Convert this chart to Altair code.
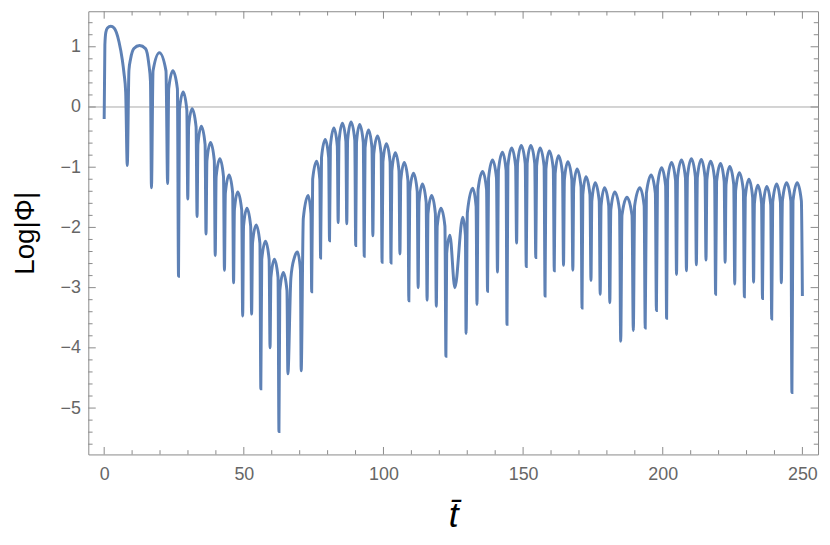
import altair as alt
import pandas as pd

# ---- curve values -----------------------------------------------------
# bottoms of the dips (first entry = start of the curve, last = its end)
dip_t = [0.0, 8.27, 16.93, 22.72, 26.62, 29.93, 33.26, 36.46, 39.76, 43.06,
         46.33, 49.59, 52.79, 56.09, 59.39, 62.58, 65.78, 70.54, 74.30, 77.49,
         80.69, 83.78, 86.86, 90.06, 93.11, 96.20, 99.50, 102.70, 105.89, 109.09,
         112.42, 115.62, 118.92, 122.36, 125.56, 129.57, 133.48, 137.27, 140.82, 144.23,
         147.67, 151.12, 154.53, 157.86, 161.16, 164.47, 167.80, 171.10, 174.30, 177.60,
         181.04, 184.95, 189.46, 193.72, 197.73, 201.38, 204.93, 208.48, 212.03, 215.48,
         218.92, 222.33, 225.77, 229.22, 232.52, 235.71, 239.01, 242.46, 246.25, 250.0]
dip_y = [-0.20, -0.97, -1.34, -1.27, -2.81, -1.53, -1.82, -2.11, -2.47, -2.71,
         -2.92, -3.47, -3.44, -4.68, -4.00, -5.39, -4.43, -4.38, -3.07, -2.51,
         -2.22, -1.92, -1.94, -2.30, -2.48, -2.14, -2.58, -2.59, -2.44, -3.22,
         -3.00, -3.21, -3.31, -4.14, -3.00, -3.76, -3.28, -3.06, -2.74, -3.61,
         -2.26, -2.65, -2.50, -3.14, -2.72, -2.63, -2.71, -3.34, -2.88, -3.11,
         -3.25, -3.89, -3.71, -3.67, -3.38, -3.51, -2.78, -2.72, -2.62, -2.54,
         -3.11, -2.58, -2.94, -3.15, -2.91, -3.18, -3.52, -2.92, -4.74, -3.14]

# tops of the arches
peak_t = [2.38, 12.67, 19.77, 24.60, 28.29, 31.49, 34.79, 38.09, 41.43, 44.73,
          47.82, 51.12, 54.42, 57.76, 60.95, 64.15, 69.22, 73.02, 76.07, 79.16,
          82.25, 85.30, 88.39, 91.48, 94.67, 97.87, 101.06, 104.26, 107.45, 110.76,
          113.95, 117.25, 120.59, 123.78, 128.40, 131.95, 135.50, 139.05, 142.60, 145.90,
          149.34, 152.75, 156.09, 159.39, 162.69, 166.03, 169.33, 172.52, 175.83, 179.16,
          182.82, 187.18, 191.80, 195.85, 199.61, 203.16, 206.71, 210.26, 213.81, 217.15,
          220.70, 224.00, 227.44, 230.85, 234.04, 237.24, 240.79, 244.34, 248.14]
peak_y = [1.34, 1.02, 0.90, 0.60, 0.25, -0.03, -0.32, -0.59, -0.86, -1.13,
          -1.41, -1.68, -1.96, -2.23, -2.53, -2.75, -2.41, -1.47, -0.90, -0.54,
          -0.35, -0.27, -0.25, -0.29, -0.38, -0.48, -0.61, -0.76, -0.92, -1.10,
          -1.28, -1.47, -1.68, -2.13, -1.83, -1.35, -1.07, -0.88, -0.75, -0.68,
          -0.64, -0.64, -0.68, -0.73, -0.81, -0.91, -1.03, -1.16, -1.26, -1.34,
          -1.41, -1.50, -1.34, -1.13, -1.01, -0.92, -0.88, -0.86, -0.87, -0.90,
          -0.94, -0.99, -1.09, -1.20, -1.30, -1.32, -1.28, -1.26, -1.26]

# points on the flanks of the arches, where they turn down into the dips
flank_t = [0.25, 0.60, 1.17, 3.55, 5.32, 6.50, 7.10, 7.70,
           8.87, 9.47, 10.65, 14.80, 15.97, 16.58,
           17.50, 22.13, 23.10, 26.22, 26.95, 29.60, 30.24, 32.91, 33.57, 36.13,
           36.79, 39.43, 40.09, 42.73, 43.39, 46.01, 46.63, 49.24, 49.90, 52.46,
           53.12, 55.76, 56.42, 59.06, 59.70, 62.25, 62.89, 65.45,
           66.85, 68.05, 70.28, 71.30, 74.04,
           74.65, 77.21, 77.82, 80.38, 81.00, 83.47, 84.08, 86.55, 87.17, 89.73,
           90.34, 92.78, 93.42, 95.89, 96.53, 99.17, 99.81, 102.37, 103.01, 105.56,
           106.20, 108.76, 109.42, 112.09, 112.73, 115.29, 115.95, 118.59, 119.25, 122.01,
           122.64, 129.34, 130.05, 133.17,
           133.88, 136.92, 137.63, 140.47, 141.18, 143.90, 144.56, 147.32, 148.00, 150.76,
           151.45, 154.17, 154.84, 157.51, 158.17, 160.81, 161.47, 164.11, 164.78, 167.45,
           168.11, 170.75, 171.38, 173.94, 174.61, 177.25, 177.91, 180.66, 181.40, 184.52,
           185.40, 189.00, 189.93, 193.34, 194.15, 197.35, 198.11, 201.03, 201.74, 204.58,
           205.29, 208.13, 208.84, 211.68, 212.39, 215.15, 215.81, 218.57, 219.28, 222.00,
           222.66, 225.42, 226.10, 228.86, 229.55, 232.19, 232.82, 235.38, 236.02, 238.66,
           239.37, 242.13, 242.84, 245.87, 246.63, 249.63]
flank_y = [1.03, 1.24, 1.31, 1.31, 1.08, 0.78, 0.56, 0.25,
           0.61, 0.80, 0.97, 0.97, 0.72, 0.42,
           0.60, 0.60, 0.30, 0.30, -0.05, -0.05, -0.33, -0.33, -0.62, -0.62,
           -0.89, -0.89, -1.16, -1.16, -1.43, -1.43, -1.71, -1.71, -1.98, -1.98,
           -2.26, -2.26, -2.53, -2.53, -2.83, -2.83, -3.05, -3.05,
           -2.84, -2.51, -2.71, -1.85, -1.77,
           -1.20, -1.20, -0.84, -0.84, -0.65, -0.65, -0.57, -0.57, -0.55, -0.55,
           -0.59, -0.59, -0.68, -0.68, -0.78, -0.78, -0.91, -0.91, -1.06, -1.06,
           -1.22, -1.22, -1.40, -1.40, -1.58, -1.58, -1.77, -1.77, -1.98, -1.98,
           -2.43, -2.13, -1.75, -1.65,
           -1.37, -1.37, -1.18, -1.18, -1.05, -1.05, -0.98, -0.98, -0.94, -0.94,
           -0.94, -0.94, -0.98, -0.98, -1.03, -1.03, -1.11, -1.11, -1.21, -1.21,
           -1.33, -1.33, -1.46, -1.46, -1.56, -1.56, -1.64, -1.64, -1.71, -1.71,
           -1.80, -1.80, -1.64, -1.64, -1.43, -1.43, -1.31, -1.31, -1.22, -1.22,
           -1.18, -1.18, -1.16, -1.16, -1.17, -1.17, -1.20, -1.20, -1.24, -1.24,
           -1.29, -1.29, -1.39, -1.39, -1.50, -1.50, -1.60, -1.60, -1.62, -1.62,
           -1.58, -1.58, -1.56, -1.56, -1.56, -1.56]

# ---- axis tick values ---------------------------------------------------
x_major = [0, 50, 100, 150, 200, 250]
x_minor = [10, 20, 30, 40, 60, 70, 80, 90, 110, 120, 130, 140, 160, 170, 180, 190,
           210, 220, 230, 240]
y_major = [-5, -4, -3, -2, -1, 0, 1]
y_minor = [-5.6, -5.4, -5.2, -4.8, -4.6, -4.4, -4.2, -3.8, -3.6, -3.4, -3.2,
           -2.8, -2.6, -2.4, -2.2, -1.8, -1.6, -1.4, -1.2, -0.8, -0.6, -0.4, -0.2,
           0.2, 0.4, 0.6, 0.8, 1.2, 1.4]

# ---- chart ----------------------------------------------------------------
W, H = 736, 447
FRAME = "#8a8a8a"
LABEL = "#666666"
FONT = "Liberation Sans"
MAJ, MIN = 7.5, 4.3

xs = alt.Scale(domain=[-5.68, 255.6], nice=False, zero=False)
ys = alt.Scale(domain=[-5.77, 1.59], nice=False, zero=False)

x_axis = alt.Axis(
    values=x_major, format="d", title="t\u0304", tickSize=0, domain=False,
    grid=False, labelFont=FONT, labelFontSize=18, labelColor=LABEL,
    labelPadding=11, labelFlush=False, labelOverlap=False,
    titleFont=FONT, titleFontSize=36, titleFontStyle="italic",
    titleFontWeight="normal", titleColor="black", titleY=73,
    titleBaseline="alphabetic")
y_axis = alt.Axis(
    values=y_major, format="d", title="Log|Φ|", tickSize=0, domain=False,
    grid=False, labelFont=FONT, labelFontSize=18, labelColor=LABEL,
    labelPadding=8, labelFlush=False, labelOverlap=False,
    titleFont=FONT, titleFontSize=28, titleFontWeight="normal",
    titleColor="black", titleX=-55, titleBaseline="alphabetic")

curve = pd.DataFrame({"t": dip_t + peak_t + flank_t,
                      "v": dip_y + peak_y + flank_y}).sort_values("t")

line = alt.Chart(curve).mark_line(
    color="#5e81b5", strokeWidth=3, interpolate="monotone", clip=True
).encode(
    x=alt.X("t:Q", scale=xs, axis=x_axis, title="t\u0304"),
    y=alt.Y("v:Q", scale=ys, axis=y_axis, title="Log|Φ|"),
)

zero = alt.Chart(pd.DataFrame({"v": [0.0]})).mark_rule(
    color="#a8a8a8", strokeWidth=1
).encode(y=alt.Y("v:Q", scale=ys, axis=y_axis, title="Log|Φ|"),
         x=alt.value(0), x2=alt.value(W))


def xticks(vals, y1, y2):
    return alt.Chart(pd.DataFrame({"t": vals})).mark_rule(
        color=FRAME, strokeWidth=1
    ).encode(x=alt.X("t:Q", scale=xs, axis=x_axis, title="t\u0304"),
             y=alt.value(y1), y2=alt.value(y2))


def yticks(vals, x1, x2):
    return alt.Chart(pd.DataFrame({"v": vals})).mark_rule(
        color=FRAME, strokeWidth=1
    ).encode(y=alt.Y("v:Q", scale=ys, axis=y_axis, title="Log|Φ|"),
             x=alt.value(x1), x2=alt.value(x2))


ticks = [
    xticks(x_major, H, H - MAJ), xticks(x_minor, H, H - MIN),
    xticks(x_major, 0, MAJ), xticks(x_minor, 0, MIN),
    yticks(y_major, 0, MAJ), yticks(y_minor, 0, MIN),
    yticks(y_major, W, W - MAJ), yticks(y_minor, W, W - MIN),
]

chart = alt.layer(zero, *ticks, line).properties(
    width=W, height=H,
    padding={"left": 81, "top": 1, "right": 4, "bottom": 81},
    autosize=alt.AutoSizeParams(type="none"),
).configure_view(stroke=FRAME, strokeWidth=1)

chart.save("out.html", embed_options={"renderer": "svg", "actions": False})
